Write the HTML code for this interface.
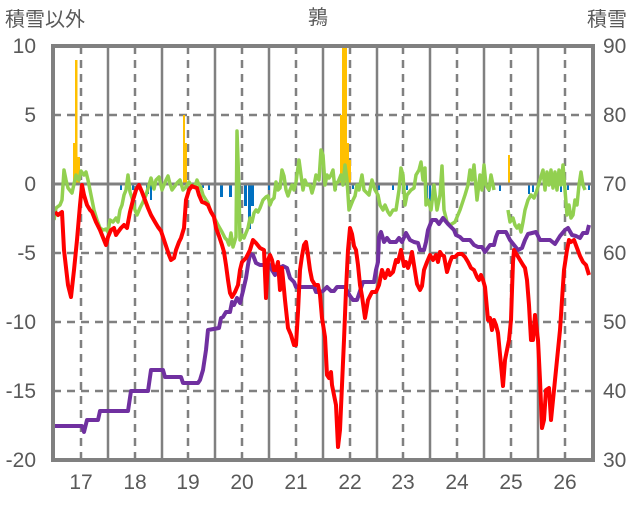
<!DOCTYPE html>
<html><head><meta charset="utf-8"><style>
body{margin:0;background:#fff}
svg text{font-family:"Liberation Sans","Noto Sans CJK JP",sans-serif;fill:#595959}
</style></head><body>
<svg width="636" height="501" xmlns="http://www.w3.org/2000/svg">
<text x="5" y="26" font-size="20">積雪以外</text>
<text x="318" y="24" font-size="20" text-anchor="middle">鶉</text>
<text x="587" y="26" font-size="20">積雪</text>
<g font-size="21" text-anchor="end">
<text x="36" y="53">10</text><text x="36" y="122">5</text><text x="36" y="191">0</text>
<text x="36" y="260">-5</text><text x="36" y="329">-10</text><text x="36" y="398">-15</text><text x="36" y="467">-20</text>
</g>
<g font-size="21">
<text x="603" y="53">90</text><text x="603" y="122">80</text><text x="603" y="191">70</text>
<text x="603" y="260">60</text><text x="603" y="329">50</text><text x="603" y="398">40</text><text x="603" y="467">30</text>
</g>
<g font-size="21" text-anchor="middle">
<text x="81" y="489">17</text><text x="135" y="489">18</text><text x="188" y="489">19</text><text x="242" y="489">20</text><text x="296" y="489">21</text><text x="350" y="489">22</text><text x="403" y="489">23</text><text x="457" y="489">24</text><text x="511" y="489">25</text><text x="565" y="489">26</text>
</g>
<g stroke="#808080" stroke-width="2.5" stroke-dasharray="8,6">
<line x1="81" y1="46" x2="81" y2="460"/><line x1="135" y1="46" x2="135" y2="460"/><line x1="188" y1="46" x2="188" y2="460"/><line x1="242" y1="46" x2="242" y2="460"/><line x1="296" y1="46" x2="296" y2="460"/><line x1="350" y1="46" x2="350" y2="460"/><line x1="403" y1="46" x2="403" y2="460"/><line x1="457" y1="46" x2="457" y2="460"/><line x1="511" y1="46" x2="511" y2="460"/><line x1="565" y1="46" x2="565" y2="460"/>
<line x1="53" y1="115" x2="593" y2="115"/><line x1="53" y1="253" x2="593" y2="253"/><line x1="53" y1="322" x2="593" y2="322"/><line x1="53" y1="391" x2="593" y2="391"/>
</g>
<g stroke="#808080" stroke-width="2.5">
<line x1="108" y1="46" x2="108" y2="460"/><line x1="162" y1="46" x2="162" y2="460"/><line x1="215" y1="46" x2="215" y2="460"/><line x1="269" y1="46" x2="269" y2="460"/><line x1="323" y1="46" x2="323" y2="460"/><line x1="377" y1="46" x2="377" y2="460"/><line x1="430" y1="46" x2="430" y2="460"/><line x1="484" y1="46" x2="484" y2="460"/><line x1="538" y1="46" x2="538" y2="460"/>
</g>
<g fill="#ffc000">
<rect x="73" y="143" width="3" height="41"/><rect x="75" y="60" width="2.5" height="124"/><rect x="77" y="157" width="3" height="27"/>
<rect x="183" y="115" width="2" height="69"/><rect x="185" y="143" width="2" height="41"/>
<rect x="340" y="115" width="2" height="69"/><rect x="342" y="46" width="5" height="138"/><rect x="347" y="143" width="2" height="41"/><rect x="349" y="160" width="2" height="24"/>
<rect x="508" y="155" width="2" height="29"/>
</g>
<g fill="#0070c0">
<rect x="120" y="184" width="2" height="6"/><rect x="132" y="184" width="2" height="6"/><rect x="136" y="184" width="2" height="4"/><rect x="146" y="184" width="3" height="10"/><rect x="150" y="184" width="2" height="16"/><rect x="202" y="184" width="2" height="4"/>
<rect x="208" y="184" width="2" height="6"/><rect x="220" y="184" width="3" height="13"/><rect x="229" y="184" width="3" height="13"/><rect x="239" y="184" width="2" height="14"/><rect x="244" y="184" width="3" height="22"/><rect x="248" y="184" width="3" height="45"/><rect x="251" y="184" width="3" height="22"/>
<rect x="268" y="184" width="2" height="6"/><rect x="275" y="184" width="2" height="6"/><rect x="294" y="184" width="2" height="6"/>
<rect x="335" y="184" width="2" height="6"/><rect x="352" y="184" width="2" height="5"/><rect x="378" y="184" width="2" height="6"/><rect x="392" y="184" width="2" height="6"/><rect x="406" y="184" width="2" height="6"/><rect x="426" y="184" width="2" height="20"/><rect x="429" y="184" width="2" height="24"/><rect x="432" y="184" width="2" height="12"/>
<rect x="488" y="184" width="2" height="8"/><rect x="499" y="184" width="2" height="7"/><rect x="528" y="184" width="2" height="10"/><rect x="532" y="184" width="2" height="8"/><rect x="560" y="184" width="2" height="8"/><rect x="567" y="184" width="2" height="6"/><rect x="588" y="184" width="2" height="6"/>
</g>
<line x1="53" y1="184" x2="593" y2="184" stroke="#808080" stroke-width="3"/>
<g fill="none" stroke-linejoin="round" stroke-width="4">
<polyline stroke="#92d050" stroke-width="3.5" points="54,220 56,208 60,205 62,200 64,170 66,180 68,188 72,193 76,175 79,180 81,171 84,175 86,172 88,180 91,195 94,210 97,220 100,228 103,230 106,229 108,232 110,220 113,222 116,218 118,222 120,210 122,205 124,195 126,190 128,175 130,192 132,198 135,210 137,215 140,208 143,202 146,195 149,185 151,178 154,189 156,180 159,177 162,190 164,185 166,180 168,176 170,184 172,190 175,186 177,183 180,180 183,190 186,187 189,182 191,185 195,186 197,180 199,185 201,188 203,195 206,200 208,203 210,210 214,217 218,225 222,232 225,238 227,240 229,245 231,233 233,247 236,237 237,131 238,160 239,190 240,240 242,235 244,238 246,233 248,228 250,218 252,222 254,213 256,210 258,212 260,208 263,200 266,197 268,196 270,205 272,200 274,198 276,182 278,190 280,188 282,170 284,176 286,190 288,196 290,190 292,185 294,190 296,182 299,160 301,175 303,190 305,180 307,185 310,185 312,193 314,186 316,175 319,180 321,150 323,155 325,185 327,175 329,178 331,175 333,170 335,190 336,183 338,182 341,175 343,185 345,165 347,180 349,210 351,205 353,200 355,196 357,185 359,190 362,175 364,190 366,192 369,195 372,180 375,190 378,195 380,205 383,210 385,205 388,212 390,215 393,210 396,210 399,190 401,168 403,175 405,205 407,195 411,190 414,188 416,175 419,170 421,162 423,180 425,168 426,205 428,200 431,210 434,185 437,210 440,195 442,166 444,210 447,222 450,225 455,222 460,210 465,195 468,185 470,170 472,180 474,165 477,200 480,175 482,190 484,165 486,185 489,190 491,175 494,190"/>
<polyline stroke="#92d050" stroke-width="3.5" points="508,210 510,222 513,218 515,225 517,228 519,225 521,232 523,222 525,210 528,200 531,195 534,198 537,190 540,180 543,170 545,190 547,172 549,185 551,170 553,188 555,172 557,190 559,170 561,185 563,165 565,190 567,215 569,205 571,218 573,215 575,200 577,205 579,185 581,172 583,185 585,190"/>
<polyline stroke="#7030a0" points="53,426 82,426 84,432 87,420 98,420 100,411 128,411 131,391 148,391 151,370 163,370 165,377 181,377 183,383 198,383 200,380 203,370 206,350 208,330 219,328 221,318 223,317 226,312 230,312 232,302 234,305 237,298 240,303 243,291 246,278 248,265 250,254 253,255 256,263 260,265 270,265 272,270 275,275 278,265 280,268 283,266 287,268 290,278 294,282 296,287 314,287 316,292 320,292 323,291 327,287 331,291 334,291 337,287 345,287 350,296 353,300 357,300 360,291 363,282 374,282 376,270 378,262 379,237 381,232 384,242 387,238 390,242 396,242 399,238 402,242 406,233 410,240 414,242 418,243 420,250 424,250 426,242 428,230 432,220 436,220 439,224 443,218 448,224 450,226 454,230 456,235 460,237 463,240 470,240 474,245 478,247 482,247 485,252 490,245 494,245 496,237 498,232 506,232 510,240 514,245 518,250 522,248 525,240 528,234 536,232 540,240 550,240 555,244 560,236 565,230 568,228 572,235 576,236 580,238 583,233 587,233 589,225"/>
<polyline stroke="#ff0000" points="55,212 58,215 62,212 64,250 68,285 71,297 74,270 77,240 80,205 82,185 84,195 87,205 90,210 92,212 96,222 100,230 104,240 106,245 108,237 111,230 114,228 116,235 118,232 121,228 124,225 127,228 130,212 133,200 136,190 139,185 142,192 145,200 148,208 151,215 155,222 158,227 161,231 163,237 166,246 169,255 171,260 174,258 176,250 179,242 181,238 184,228 186,200 189,190 192,186 194,187 197,188 199,195 202,202 205,203 208,205 211,212 214,217 216,228 219,236 222,245 224,252 226,265 228,280 230,293 232,297 235,292 238,285 240,270 242,262 246,258 250,250 253,240 256,243 260,248 264,250 266,298 268,260 270,255 272,260 274,270 276,270 278,262 280,290 282,268 285,300 288,328 291,335 294,345 296,345 298,312 300,270 302,256 304,245 306,242 308,255 310,270 312,280 315,285 318,285 320,295 322,318 325,337 327,375 329,378 331,372 332,385 334,395 336,405 338,447 340,430 342,385 344,340 346,290 348,250 350,228 352,234 354,246 356,250 358,265 360,285 362,296 365,318 368,300 372,292 376,292 379,285 382,270 385,278 388,270 390,275 393,272 396,260 398,262 401,250 404,266 406,262 408,268 410,262 412,252 414,265 417,284 420,290 422,286 424,270 427,262 430,255 433,260 436,255 438,262 440,252 442,255 444,256 447,272 450,262 452,257 455,257 458,254 462,254 465,257 468,262 471,268 474,270 477,277 479,280 481,275 483,280 485,287 488,320 490,318 492,330 494,320 496,325 498,333 501,365 503,386 505,360 507,350 509,340 511,320 512,290 513,262 514,250 517,255 520,260 523,265 525,268 527,280 529,305 531,340 533,340 535,315 538,340 540,380 542,428 544,420 546,390 549,388 551,420 553,400 556,370 560,330 564,270 567,250 569,240 571,242 574,240 577,248 580,256 583,262 586,265 589,275"/>
</g>
<rect x="53" y="46" width="540" height="414" fill="none" stroke="#808080" stroke-width="4"/>
</svg>
</body></html>
